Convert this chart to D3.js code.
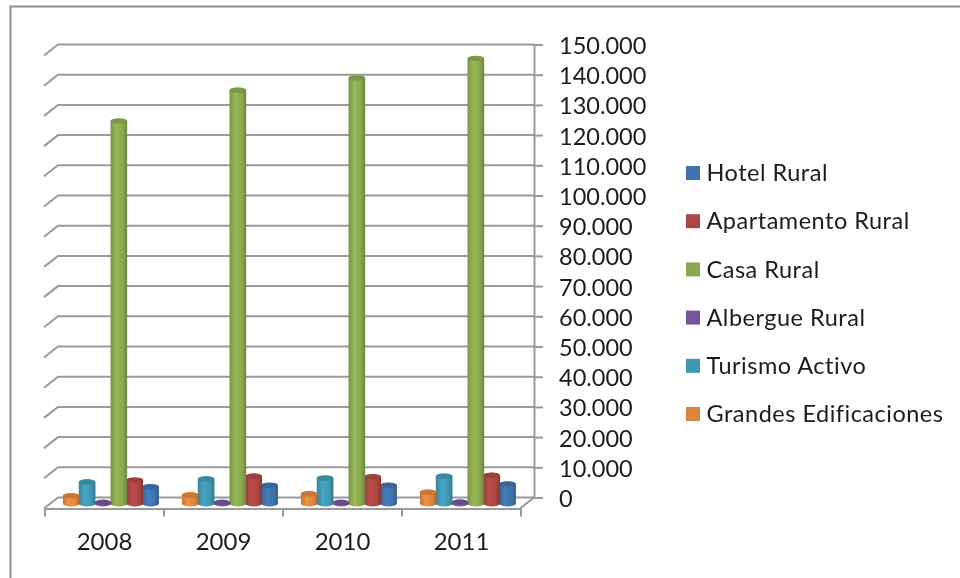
<!DOCTYPE html>
<html>
<head>
<meta charset="utf-8">
<script src="https://cdn.jsdelivr.net/npm/d3@7"></script>
<style>
html, body { margin: 0; padding: 0; background: #fff; }
svg { display: block; }
text { font-family: Lato, "Open Sans", sans-serif; fill: #1c1c1c; }
</style>
</head>
<body>
<svg width="960" height="578"></svg>
<script>
// values
var years = ['2008', '2009', '2010', '2011'];
var seriesNames = ['Hotel Rural', 'Apartamento Rural', 'Casa Rural', 'Albergue Rural', 'Turismo Activo', 'Grandes Edificaciones'];
var seriesColors = ['#3f72ad', '#ab4644', '#8aa84f', '#75559b', '#4097b3', '#dd853e'];
var hotelRural = [5500, 6000, 6000, 6400];
var apartamentoRural = [7700, 9000, 8800, 9300];
var casaRural = [126600, 136800, 140900, 147300];
var albergueRural = [300, 300, 300, 400];
var turismoActivo = [7100, 8100, 8400, 9000];
var grandesEdificaciones = [2500, 2800, 3200, 3700];
var yTicks = d3.range(0, 150001, 10000);

var seriesValues = [hotelRural, apartamentoRural, casaRural, albergueRural, turismoActivo, grandesEdificaciones];

var svg = d3.select('svg');
var locale = d3.formatLocale({decimal: ',', thousands: '.', grouping: [3], currency: ['', '']});
var grey = '#9a9a9a';

// back wall
var backLeft = 58, backRight = 534;
var depthX = -14, depthY = 11;
var y = d3.scaleLinear().domain([0, 150000]).range([497.5, 44.5]);
var xFront = d3.scaleBand().domain(years).range([backLeft + depthX + 1, backRight + depthX + 1]);
var xMid = d3.scaleBand().domain(years).range([backLeft + depthX / 2, backRight + depthX / 2]);
// bars run right to left in legend order
var xBar = d3.scaleBand().domain(d3.range(6).reverse()).range([xMid.bandwidth() * 0.1, xMid.bandwidth() * 0.9]);

// outer frame
svg.append('path').attr('d', 'M10.5,578V6.5H960')
	.attr('fill', 'none').attr('stroke', '#8c8c8c').attr('stroke-width', 2);

var defs = svg.append('defs');
defs.append('filter').attr('id', 'soft').append('feGaussianBlur').attr('stdDeviation', 0.45);
seriesColors.forEach(function(c, i) {
	var g = defs.append('linearGradient').attr('id', 'cyl' + i);
	g.append('stop').attr('offset', '0%').attr('stop-color', d3.color(c).darker(0.35));
	g.append('stop').attr('offset', '35%').attr('stop-color', d3.color(c).brighter(0.25));
	g.append('stop').attr('offset', '75%').attr('stop-color', c);
	g.append('stop').attr('offset', '100%').attr('stop-color', d3.color(c).darker(0.7));
});

var chart = svg.append('g').attr('filter', 'url(#soft)');

// gridlines with the little stubs on the left
chart.append('g').selectAll('path').data(yTicks).enter().append('path')
	.attr('d', function(d) {
		return 'M' + (backLeft + depthX) + ',' + (y(d) + depthY) + 'L' + backLeft + ',' + y(d) + 'H' + backRight;
	})
	.attr('fill', 'none').attr('stroke', grey).attr('stroke-width', 2);

// value axis
var axis = d3.axisRight(y).tickValues(yTicks).tickSize(9).tickPadding(16)
	.tickFormat(locale.format(',.0f'));
var axisG = chart.append('g').attr('transform', 'translate(' + backRight + ',0)').call(axis);
axisG.select('.domain').attr('stroke', grey).attr('stroke-width', 2);
axisG.selectAll('.tick line').attr('stroke', grey).attr('stroke-width', 2);
axisG.selectAll('text').attr('font-size', 23.5).attr('y', 1.5).style('font-family', 'Lato').attr('fill', '#1c1c1c');

// floor
var floorY = y(0) + depthY;
chart.append('path')
	.attr('d', 'M' + (backRight + depthX) + ',' + floorY + 'L' + backRight + ',' + y(0))
	.attr('fill', 'none').attr('stroke', grey).attr('stroke-width', 2);
var xAxis = d3.axisBottom(xFront).tickSize(0).tickPadding(22);
var xG = chart.append('g').attr('transform', 'translate(0,' + floorY + ')').call(xAxis);
xG.select('.domain').attr('stroke', grey).attr('stroke-width', 2);
xG.selectAll('text').attr('font-size', 24).attr('y', 24).style('font-family', 'Lato').attr('fill', '#1c1c1c');
xG.selectAll('.sep').data(xFront.domain().concat(['end'])).enter().append('line')
	.attr('class', 'sep')
	.attr('x1', function(d, i) { return xFront.range()[0] + i * xFront.step(); })
	.attr('x2', function(d, i) { return xFront.range()[0] + i * xFront.step(); })
	.attr('y1', 0).attr('y2', 8)
	.attr('stroke', grey).attr('stroke-width', 2);

// cylinders
function cylinder(cx, rx, top, base) {
	var ry = 3;
	return 'M' + (cx - rx) + ',' + top +
		'A' + rx + ',' + ry + ' 0 0 1 ' + (cx + rx) + ',' + top +
		'V' + base +
		'A' + rx + ',' + ry + ' 0 0 1 ' + (cx - rx) + ',' + base + 'Z';
}
var barDrop = depthY / 2 + 0.5;
var bars = [];
seriesValues.forEach(function(vals, s) {
	vals.forEach(function(v, i) { bars.push({s: s, year: years[i], v: v}); });
});
var barG = chart.append('g').selectAll('g').data(bars).enter().append('g')
	.attr('transform', function(d) { return 'translate(' + (xMid(d.year) + xBar(d.s)) + ',0)'; });
var rx = xBar.bandwidth() / 2 + 0.4;
barG.append('path')
	.attr('d', function(d) { return cylinder(rx, rx, y(d.v) + barDrop, y(0) + barDrop); })
	.attr('fill', function(d) { return 'url(#cyl' + d.s + ')'; });
barG.append('ellipse')
	.attr('cx', rx).attr('cy', function(d) { return y(d.v) + barDrop; })
	.attr('rx', rx).attr('ry', 2.6)
	.attr('fill', function(d) { return d3.color(seriesColors[d.s]).darker(0.3); });

// legend
var legendY = d3.scalePoint().domain(seriesNames).range([173, 414]);
var legend = chart.append('g').selectAll('g').data(seriesNames).enter().append('g')
	.attr('transform', function(d) { return 'translate(686,' + legendY(d) + ')'; });
legend.append('rect').attr('y', -7).attr('width', 14).attr('height', 14)
	.attr('fill', function(d, i) { return seriesColors[i]; });
legend.append('text').attr('x', 20.5).attr('dy', '0.35em').attr('font-size', 23.5)
	.attr('letter-spacing', 0.5)
	.text(function(d) { return d; });
</script>
</body>
</html>
